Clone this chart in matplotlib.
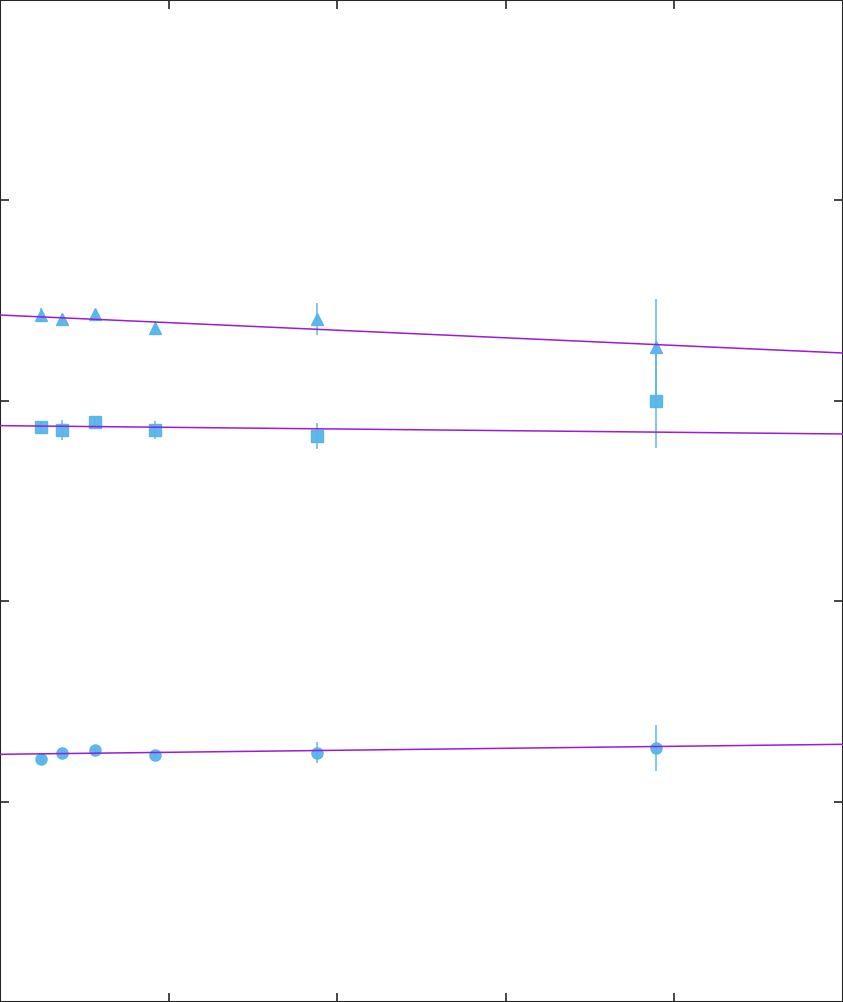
import numpy as np
import matplotlib
matplotlib.use("Agg")
import matplotlib.pyplot as plt

# x positions (shared by all three series)
x_vals = [0.243, 0.368, 0.563, 0.919, 1.880, 3.891]

# series: triangles (top), squares (middle), circles (bottom)
tri_y = [3.428, 3.408, 3.433, 3.363, 3.408, 3.268]
tri_err = [0.035, 0.025, 0.015, 0.035, 0.082, 0.240]
sq_y = [2.869, 2.854, 2.894, 2.854, 2.824, 3.000]
sq_err = [0.030, 0.050, 0.025, 0.045, 0.067, 0.235]
circ_y = [1.214, 1.244, 1.257, 1.233, 1.244, 1.266]
circ_err = [0.015, 0.015, 0.015, 0.015, 0.051, 0.115]

# linear fits: intercept, slope
fit_intercepts = [3.428, 2.876, 1.236]
fit_slopes = [-0.0379, -0.0083, 0.0100]

x_ticks = [1, 2, 3, 4]
y_ticks = [1, 2, 3, 4]

fig = plt.figure(figsize=(8.43, 10.02), dpi=100)
ax = fig.add_axes([0, 0, 1, 1])
ax.set_xlim(0, 5)
ax.set_ylim(0, 5)

mcol = '#56B4E9'
lcol = '#9A1BE0'

xx = np.linspace(0, 5, 200)
for b, m in zip(fit_intercepts, fit_slopes):
    ax.plot(xx, b + m * xx, color=lcol, lw=1.1, zorder=3)

for ys, es, mk, ms in [(tri_y, tri_err, '^', 8.5), (sq_y, sq_err, 's', 8.5), (circ_y, circ_err, 'o', 8)]:
    ax.errorbar(x_vals, ys, yerr=es, fmt=mk, color=mcol, ms=ms, mec=mcol,
                ecolor=mcol, elinewidth=1.1, capsize=0, alpha=0.95, zorder=2)

ax.set_xticks(x_ticks)
ax.set_yticks(y_ticks)
ax.set_xticklabels([])
ax.set_yticklabels([])
ax.tick_params(direction='in', length=6.5, width=1.2, colors='#262626',
               top=True, right=True, bottom=True, left=True)
for s in ax.spines.values():
    s.set_color('#262626')
    s.set_linewidth(1.5)

fig.savefig('out.png', dpi=100)
